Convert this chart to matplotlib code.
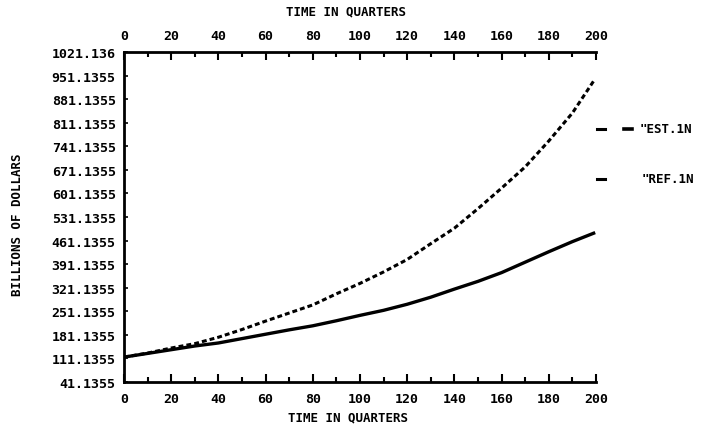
import matplotlib.pyplot as plt
from matplotlib.ticker import MultipleLocator

# quarters and series values (billions of dollars)
quarters = [0, 10, 20, 30, 40, 50, 60, 70, 80, 90, 100,
            110, 120, 130, 140, 150, 160, 170, 180, 190, 199]
est_in = [115, 127, 142, 155, 174, 197, 222, 246, 270, 303, 334,
          368, 405, 452, 498, 556, 617, 680, 757, 840, 935]
ref_in = [115, 126, 137, 148, 157, 170, 183, 196, 208, 223, 239,
          254, 272, 293, 317, 340, 366, 397, 428, 458, 483]

y_ticks = [41.1355 + 70 * i for i in range(15)]
y_labels = ["%.4f" % v for v in y_ticks[:-1]] + ["1021.136"]
x_ticks = list(range(0, 201, 20))

font = {"family": "DejaVu Sans Mono", "weight": "bold", "size": 9}
tick_font = {"family": "DejaVu Sans Mono", "weight": "bold", "size": 9.5}

fig = plt.figure(figsize=(7.07, 4.31), dpi=100)
ax = fig.add_axes([0.1754, 0.1114, 0.6676, 0.7656])

ax.plot(quarters, est_in, color="black", linewidth=2.2,
        linestyle=(0, (1.6, 1.0)), solid_capstyle="butt")
ax.plot(quarters, ref_in, color="black", linewidth=2.4)

ax.set_xlim(0, 200)
ax.set_ylim(41.1355, 1021.136)

ax.spines["right"].set_visible(False)
for s in ("left", "bottom", "top"):
    ax.spines[s].set_linewidth(2.0)

ax.set_xticks(x_ticks)
ax.set_xticklabels([str(v) for v in x_ticks], fontdict=tick_font)
ax.xaxis.set_minor_locator(MultipleLocator(10))
ax.set_yticks(y_ticks)
ax.set_yticklabels(y_labels, fontdict=tick_font)

ax.tick_params(axis="x", which="major", direction="in", length=6, width=1.5,
               top=True, labeltop=True, bottom=True, labelbottom=True, pad=7)
ax.tick_params(axis="x", which="minor", direction="in", length=3.5, width=1.5,
               top=True, bottom=True)
ax.tick_params(axis="y", which="major", direction="in", length=3, width=1.2,
               left=True, right=False, pad=6)

ax.set_xlabel("TIME IN QUARTERS", fontdict=font)
ax.xaxis.set_label_coords(0.475, -0.085)
ax.set_ylabel("BILLIONS OF DOLLARS", fontdict=font)
ax.yaxis.set_label_coords(-0.212, 0.48)
fig.text(0.489, 0.972, "TIME IN QUARTERS", ha="center", va="center", fontdict=font)

# legend entries drawn to the right of the plot
fig.add_artist(plt.Line2D([0.845, 0.856], [0.698, 0.698], color="black", linewidth=2.2))
fig.add_artist(plt.Line2D([0.882, 0.894], [0.698, 0.698], color="black", linewidth=2.6))
fig.text(0.905, 0.700, '"EST.1N', ha="left", va="center", fontdict=font)
fig.add_artist(plt.Line2D([0.845, 0.856], [0.582, 0.582], color="black", linewidth=2.2))
fig.text(0.908, 0.584, '"REF.1N', ha="left", va="center", fontdict=font)

fig.savefig("out.png", dpi=100)
